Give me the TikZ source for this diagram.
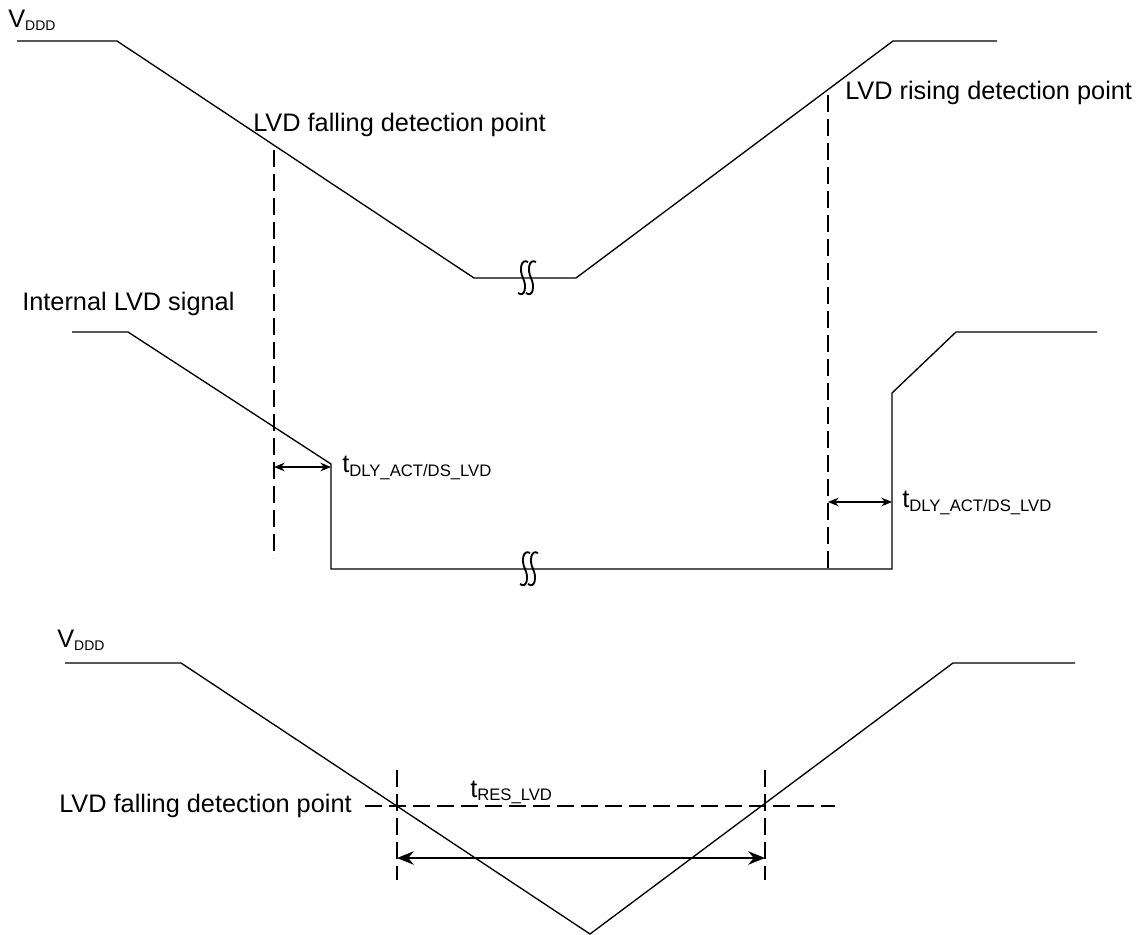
\documentclass[tikz,border=0pt]{standalone}
\usepackage{fontspec}
\setmainfont{Liberation Sans}
\usetikzlibrary{arrows.meta}
\newcommand{\subsz}{\fontsize{10.5}{12}\selectfont}
\newcommand{\subtsz}{\fontsize{12.5}{14}\selectfont}
\tikzset{
  wave/.style={line width=1pt, line join=miter},
  guide/.style={line width=1.7pt, dash pattern=on 12.5pt off 5.5pt},
  dimarrow/.style={line width=1pt, {Stealth[length=8pt,width=6.5pt]}-{Stealth[length=8pt,width=6.5pt]}},
  bigarrow/.style={line width=1.6pt, {Stealth[length=12.5pt,width=10pt]}-{Stealth[length=12.5pt,width=10pt]}},
  lbl/.style={inner sep=0pt, font=\fontsize{19}{22}\selectfont},
  brk/.style={line width=1.4pt}
}
\begin{document}
\begin{tikzpicture}[x=0.75pt,y=-0.75pt]
\useasboundingbox (0,0) rectangle (1140,935);
% ---------- top VDDD ----------
\coordinate (a0) at (17,41);
\coordinate (a1) at (117,41);
\coordinate (a2) at (474,278);
\coordinate (a3) at (576,278);
\coordinate (a4) at (893,41);
\coordinate (a5) at (997,41);
\draw[wave] (a0) -- (a1) -- (a2) -- (a3) -- (a4) -- (a5);
\node[lbl, anchor=base west] (vddd1) at (8,27) {V\textsubscript{\subsz DDD}};
\begin{scope}[brk]
\draw (528,262) .. controls (521,258) and (519,270) .. (523,278) .. controls (527,286) and (525,298) .. (518,293);
\draw (536,262) .. controls (529,258) and (527,270) .. (531,278) .. controls (535,286) and (533,298) .. (526,293);
\end{scope}
\node[lbl, anchor=base west] (fallt) at (253,131) {LVD falling detection point};
\node[lbl, anchor=base west] (riset) at (845,99) {LVD rising detection point};
\coordinate (d1t) at (274,150);
\coordinate (d1b) at (274,558);
\coordinate (d2t) at (828,95);
\coordinate (d2b) at (828,570);
\draw[guide] (d1t) -- (d1b);
\draw[guide] (d2t) -- (d2b);
% ---------- internal signal ----------
\node[lbl, anchor=base west] (intl) at (22,310) {Internal LVD signal};
\coordinate (b0) at (72,332);
\coordinate (b1) at (128,332);
\coordinate (b2) at (331,464);
\coordinate (b3) at (331,569);
\coordinate (b4) at (892,569);
\coordinate (b5) at (892,393);
\coordinate (b6) at (956,332);
\coordinate (b7) at (1097,332);
\draw[wave] (b0) -- (b1) -- (b2) -- (b3) -- (b4) -- (b5) -- (b6) -- (b7);
\begin{scope}[brk]
\draw (530,553) .. controls (523,549) and (521,561) .. (525,569) .. controls (529,577) and (527,589) .. (520,584);
\draw (538,553) .. controls (531,549) and (529,561) .. (533,569) .. controls (537,577) and (535,589) .. (528,584);
\end{scope}
\coordinate (arr1a) at (274,467);
\coordinate (arr1b) at (331,467);
\draw[dimarrow] (arr1a) -- (arr1b);
\node[lbl, anchor=base west] (tdly1) at (342,472) {t\textsubscript{\subtsz DLY\_ACT/DS\_LVD}};
\coordinate (arr2a) at (828,502);
\coordinate (arr2b) at (892,502);
\draw[dimarrow] (arr2a) -- (arr2b);
\node[lbl, anchor=base west] (tdly2) at (902,507) {t\textsubscript{\subtsz DLY\_ACT/DS\_LVD}};
% ---------- bottom VDDD ----------
\node[lbl, anchor=base west] (vddd2) at (57,647) {V\textsubscript{\subsz DDD}};
\coordinate (c0) at (65,663);
\coordinate (c1) at (181,663);
\coordinate (c2) at (590,934);
\coordinate (c3) at (953,663);
\coordinate (c4) at (1075,663);
\draw[wave] (c0) -- (c1) -- (c2) -- (c3) -- (c4);
\node[lbl, anchor=base east] (fallb) at (352,812) {LVD falling detection point};
\coordinate (h0) at (365,806);
\coordinate (h1) at (835,806);
\draw[guide] (h0) -- (h1);
\coordinate (v1t) at (397,770);
\coordinate (v1b) at (397,880);
\coordinate (v2t) at (765,770);
\coordinate (v2b) at (765,880);
\draw[guide] (v1t) -- (v1b);
\draw[guide] (v2t) -- (v2b);
\coordinate (r1) at (397,858);
\coordinate (r2) at (765,858);
\draw[bigarrow] (r1) -- (r2);
\node[lbl, anchor=base west] (tres) at (470,797) {t\textsubscript{\subtsz RES\_LVD}};
\end{tikzpicture}
\end{document}
